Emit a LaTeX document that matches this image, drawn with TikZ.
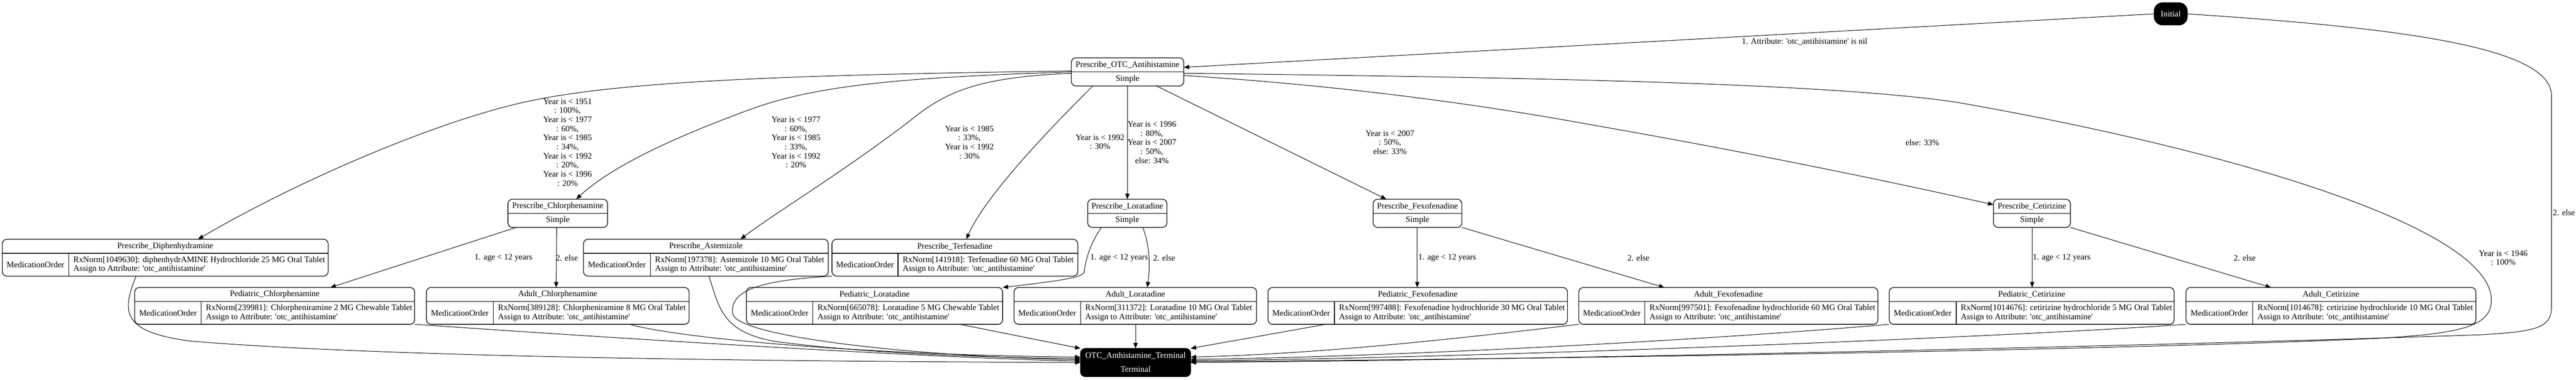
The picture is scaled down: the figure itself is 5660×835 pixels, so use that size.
\documentclass[tikz,border=0pt]{standalone}
\usepackage{fontspec}
\setmainfont{Liberation Serif}
\usetikzlibrary{arrows.meta,calc}
\newcommand{\sq}{\textquotesingle}
\tikzset{
  box/.style={draw, line width=1.1pt, rounded corners=7.5pt, inner sep=0pt, outer sep=0pt},
  divider/.style={line width=1.1pt},
  txt/.style={inner sep=0pt, font=\fontsize{13.8pt}{15pt}\selectfont},
  lbl/.style={inner sep=0pt, align=center, font=\fontsize{13.8pt}{15pt}\selectfont},
  edge/.style={draw, line width=0.85pt, -{Triangle[length=9pt,width=7pt]}},
  blackbox/.style={draw, fill=black, line width=1.1pt, rounded corners=8pt, inner sep=0pt, outer sep=0pt}
}
% name, left, right, top, title
\newcommand{\SimpleNode}[5]{%
  \node[box, minimum width={(#3-#2)*0.75pt}, minimum height=46.5pt] (#1) at ({(#2+#3)/2},{#4+31}) {};
  \draw[divider] ({#2},{#4+31}) -- ({#3},{#4+31});
  \node[txt] (#1-t) at ({(#2+#3)/2},{#4+15.5}) {#5};
  \node[txt] (#1-s) at ({(#2+#3)/2},{#4+46.5}) {Simple};
}
% name, left, right, column, top, title, rxnorm text
\newcommand{\MedNode}[7]{%
  \node[box, minimum width={(#3-#2)*0.75pt}, minimum height=60.75pt] (#1) at ({(#2+#3)/2},{#5+40.5}) {};
  \draw[divider] ({#2},{#5+31}) -- ({#3},{#5+31});
  \draw[divider] ({#4},{#5+31}) -- ({#4},{#5+81});
  \node[txt] (#1-t) at ({(#2+#3)/2},{#5+15.5}) {#6};
  \node[txt] (#1-m) at ({(#2+#4)/2},{#5+56}) {MedicationOrder};
  \node[txt, anchor=west, align=left] (#1-r) at ({#4+10},{#5+56}) {#7\\Assign to Attribute: \sq otc\_antihistamine\sq};
}
\begin{document}
\begin{tikzpicture}[x=0.75pt,y=-0.75pt]
\fill[white] (0,0) rectangle (5660,835);
\useasboundingbox (0,0) rectangle (5660,835);

% ---------- nodes ----------
\node[blackbox, minimum width=54.75pt, minimum height=36.75pt, rounded corners=14pt, text=white, font=\fontsize{13.8pt}{15pt}\selectfont] (init) at (4769.5,30.5) {Initial};

\SimpleNode{otc}{2354}{2601}{127}{Prescribe\_OTC\_Antihistamine}
\SimpleNode{chlor}{1116}{1335}{438}{Prescribe\_Chlorphenamine}
\SimpleNode{lora}{2390}{2564}{438}{Prescribe\_Loratadine}
\SimpleNode{fexo}{3017}{3212}{438}{Prescribe\_Fexofenadine}
\SimpleNode{ceti}{4380}{4549}{438}{Prescribe\_Cetirizine}

\MedNode{diph}{5}{721}{151}{526}{Prescribe\_Diphenhydramine}{RxNorm[1049630]: diphenhydrAMINE Hydrochloride 25 MG Oral Tablet}
\MedNode{aste}{1282}{1820}{1429}{526}{Prescribe\_Astemizole}{RxNorm[197378]: Astemizole 10 MG Oral Tablet}
\MedNode{terf}{1828}{2368}{1973}{526}{Prescribe\_Terfenadine}{RxNorm[141918]: Terfenadine 60 MG Oral Tablet}
\MedNode{pchl}{296}{911}{442}{632}{Pediatric\_Chlorphenamine}{RxNorm[239981]: Chlorpheniramine 2 MG Chewable Tablet}
\MedNode{achl}{937}{1514}{1084}{632}{Adult\_Chlorphenamine}{RxNorm[389128]: Chlorpheniramine 8 MG Oral Tablet}
\MedNode{plor}{1640}{2203}{1786}{632}{Pediatric\_Loratadine}{RxNorm[665078]: Loratadine 5 MG Chewable Tablet}
\MedNode{alor}{2228}{2761}{2374}{632}{Adult\_Loratadine}{RxNorm[311372]: Loratadine 10 MG Oral Tablet}
\MedNode{pfex}{2786}{3444}{2932}{632}{Pediatric\_Fexofenadine}{RxNorm[997488]: Fexofenadine hydrochloride 30 MG Oral Tablet}
\MedNode{afex}{3469}{4126}{3614}{632}{Adult\_Fexofenadine}{RxNorm[997501]: Fexofenadine hydrochloride 60 MG Oral Tablet}
\MedNode{pcet}{4151}{4777}{4298}{632}{Pediatric\_Cetirizine}{RxNorm[1014676]: cetirizine hydrochloride 5 MG Oral Tablet}
\MedNode{acet}{4803}{5440}{4950}{632}{Adult\_Cetirizine}{RxNorm[1014678]: cetirizine hydrochloride 10 MG Oral Tablet}

\node[blackbox, minimum width=181.5pt, minimum height=46.5pt] (term) at (2495,797) {};
\node[txt, text=white] (term-t) at (2495,782) {OTC\_Anthistamine\_Terminal};
\node[txt, text=white] (term-s) at (2495,812) {Terminal};

% ---------- edges from Initial ----------
\draw[edge] (init.west) -- (otc.east |- 0,148);
\draw[edge] (init.east) .. controls (5250,60) and (5606,100) .. (5606,210) -- (5606,675)
  .. controls (5606,722) and (5570,729) .. (5450,736)
  .. controls (4700,762) and (3300,792) .. (term.east |- 0,797);

% ---------- edges from OTC ----------
\draw[edge] (otc.west |- 0,156) .. controls (1700,165) and (1350,180) .. (1150,225)
  .. controls (950,270) and (650,400) .. (diph.north -| 435,0);
\draw[edge] (otc.west |- 0,158) .. controls (2000,170) and (1800,185) .. (1650,240)
  .. controls (1500,295) and (1350,360) .. (chlor.north -| 1266,0);
\draw[edge] (otc.west |- 0,161) .. controls (2150,170) and (2080,200) .. (2000,265)
  .. controls (1850,380) and (1700,470) .. (aste.north -| 1627,0);
\draw[edge] (otc.south -| 2401,0) .. controls (2340,250) and (2170,420) .. (terf.north -| 2123,0);
\draw[edge] (otc.south -| 2477,0) -- (lora.north -| 2477,0);
\draw[edge] (otc.south -| 2541,0) -- (fexo.north -| 3046,0);
\draw[edge] (otc.east |- 0,166) .. controls (2900,185) and (3200,220) .. (3500,275)
  .. controls (3900,345) and (4200,410) .. (ceti.west |- 0,450);
\draw[edge] (otc.east |- 0,161) .. controls (3300,170) and (4000,180) .. (4300,225)
  .. controls (4900,330) and (5474,500) .. (5474,660)
  .. controls (5474,720) and (5400,735) .. (5200,745)
  .. controls (4500,775) and (3100,792) .. (term.east |- 0,795);

% ---------- second level ----------
\draw[edge] (chlor.south -| 1134,0) -- (pchl.north -| 726,0);
\draw[edge] (chlor.south -| 1223,0) -- (achl.north -| 1222,0);
\draw[edge] (lora.south -| 2420,0) .. controls (2392,540) and (2384,580) .. (2382,598)
  .. controls (2380,610) and (2330,617) .. (plor.north east);
\draw[edge] (lora.south -| 2511,0) .. controls (2530,550) and (2525,600) .. (alor.north -| 2521,0);
\draw[edge] (fexo.south -| 3114,0) -- (pfex.north -| 3114,0);
\draw[edge] (fexo.south east) -- (afex.north -| 3657,0);
\draw[edge] (ceti.south -| 4465,0) -- (pcet.north -| 4465,0);
\draw[edge] (ceti.south east) -- (acet.north -| 4990,0);

% ---------- into Terminal ----------
\draw[edge] (diph.south -| 299,0) .. controls (270,680) and (260,730) .. (420,750)
  .. controls (900,790) and (1900,795) .. (term.west |- 0,797);
\draw[edge] (pchl.south east) .. controls (1300,740) and (2000,785) .. (term.west |- 0,794);
\draw[edge] (achl.south -| 1383,0) .. controls (1500,745) and (1900,780) .. (term.west |- 0,785);
\draw[edge] (aste.south -| 1558,0) .. controls (1580,680) and (1590,730) .. (1700,750)
  .. controls (1900,778) and (2200,787) .. (term.west |- 0,788);
\draw[edge] (terf.south west) .. controls (1700,615) and (1600,630) .. (1610,690)
  .. controls (1620,740) and (2000,783) .. (term.west |- 0,791);
\draw[edge] (plor.south -| 2109,0) -- (term.north west);
\draw[edge] (alor.south -| 2495,0) -- (term.north);
\draw[edge] (pfex.south -| 2913,0) -- (term.north east);
\draw[edge] (afex.south west) .. controls (3200,745) and (2900,778) .. (term.east |- 0,785);
\draw[edge] (pcet.south west) .. controls (3700,752) and (3000,786) .. (term.east |- 0,790);
\draw[edge] (acet.south west) .. controls (4400,742) and (3200,788) .. (term.east |- 0,793);

% ---------- labels ----------
\node[lbl] (l1) at (1247,313) {Year is < 1951\\: 100\%,\\Year is < 1977\\: 60\%,\\Year is < 1985\\: 34\%,\\Year is < 1992\\: 20\%,\\Year is < 1996\\: 20\%};
\node[lbl] (l2) at (1749,313) {Year is < 1977\\: 60\%,\\Year is < 1985\\: 33\%,\\Year is < 1992\\: 20\%};
\node[lbl] (l3) at (2130,313) {Year is < 1985\\: 33\%,\\Year is < 1992\\: 30\%};
\node[lbl] (l4) at (2417,312) {Year is < 1992\\: 30\%};
\node[lbl] (l5) at (2531,313) {Year is < 1996\\: 80\%,\\Year is < 2007\\: 50\%,\\else: 34\%};
\node[lbl] (l6) at (3054,313) {Year is < 2007\\: 50\%,\\else: 33\%};
\node[lbl] (l7) at (4224,313) {else: 33\%};
\node[lbl] (l8) at (5500,567) {Year is < 1946\\: 100\%};
\node[lbl] (l9) at (3965,92) {1. Attribute: \sq otc\_antihistamine\sq{} is nil};
\node[lbl, anchor=west] (l10) at (5609,468) {2. else};

\node[lbl] (c1) at (1106,567) {1. age < 12 years};
\node[lbl, anchor=west] (c2) at (1221,567) {2. else};
\node[lbl] (c3) at (2459,567) {1. age < 12 years};
\node[lbl] (c4) at (2558,567) {2. else};
\node[lbl, anchor=west] (c5) at (3116,567) {1. age < 12 years};
\node[lbl] (c6) at (3600,567) {2. else};
\node[lbl, anchor=west] (c7) at (4466,567) {1. age < 12 years};
\node[lbl] (c8) at (4932,567) {2. else};
\end{tikzpicture}
\end{document}
